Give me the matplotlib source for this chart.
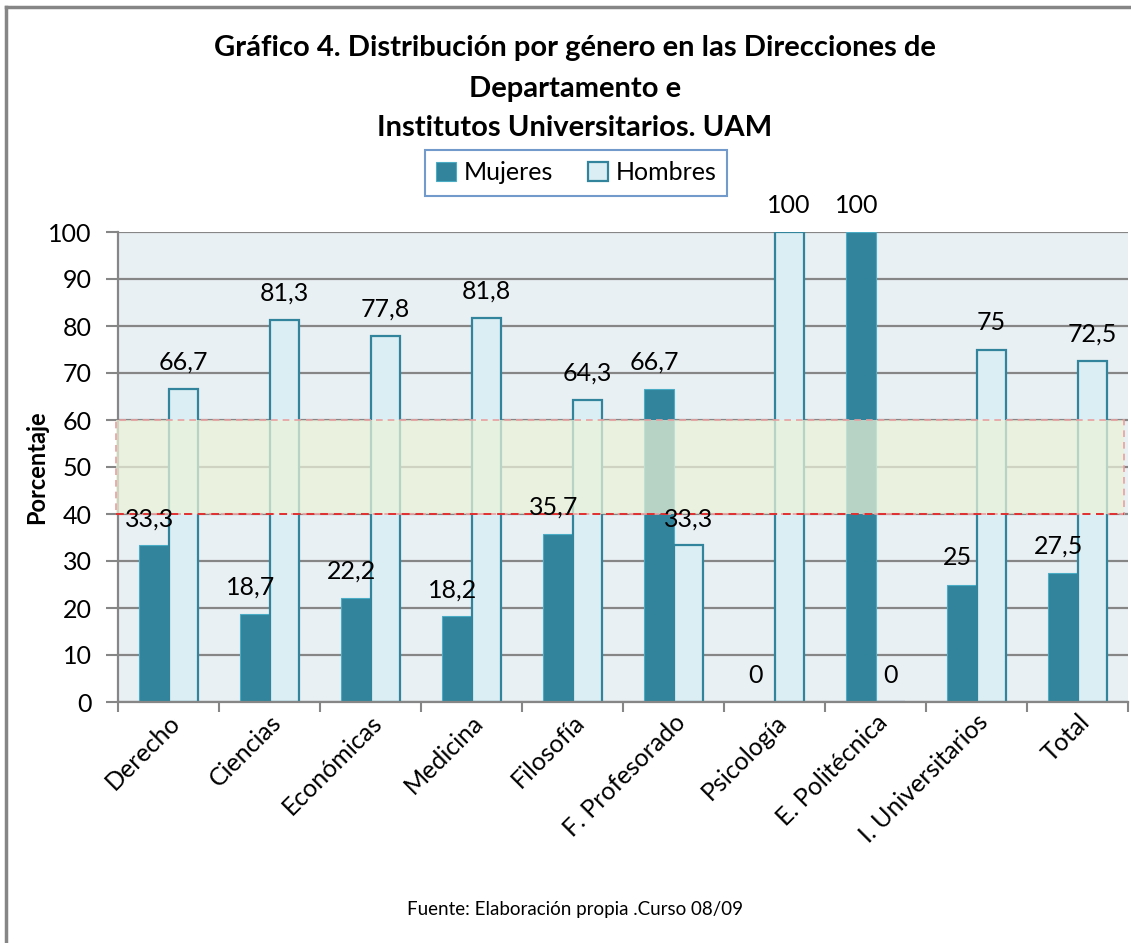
import matplotlib
matplotlib.use("Agg")
import matplotlib.pyplot as plt
from matplotlib.patches import Rectangle
from matplotlib.lines import Line2D
import numpy as np

categories = ["Derecho", "Ciencias", "Económicas", "Medicina", "Filosofía",
              "F. Profesorado", "Psicología", "E. Politécnica", "I. Universitarios", "Total"]
mujeres = [33.3, 18.7, 22.2, 18.2, 35.7, 66.7, 0, 100, 25, 27.5]
hombres = [66.7, 81.3, 77.8, 81.8, 64.3, 33.3, 100, 0, 75, 72.5]
band_low, band_high = 40, 60
yticks = list(range(0, 101, 10))

plt.rcParams['font.family'] = ['Lato', 'DejaVu Sans']
plt.rcParams['hatch.color'] = '#F4F8EC'
plt.rcParams['hatch.linewidth'] = 0.6

W, H = 1131, 943
fig = plt.figure(figsize=(W / 100, H / 100), dpi=100)

# outer border
fig.add_artist(Line2D([6 / W, 1.0], [1 - 7 / H, 1 - 7 / H], color='#868686', lw=2.5,
                      transform=fig.transFigure))
fig.add_artist(Line2D([6 / W, 6 / W], [1 - 7 / H, 0], color='#868686', lw=2.5,
                      transform=fig.transFigure))

ax = fig.add_axes([118 / W, 1 - 702 / H, 1010 / W, 470 / H])
ax.set_facecolor('#E9F0F3')

x = np.arange(len(categories))
w = 0.29
dark = '#31849B'
light = '#DAEEF3'

ax.set_axisbelow(True)
ax.yaxis.grid(True, color='#868686', lw=1.6)
bm = ax.bar(x - w / 2, mujeres, w, color=dark, edgecolor='#4BACC6', lw=0.8, zorder=2)
bh = ax.bar(x + w / 2, hombres, w, color=light, edgecolor=dark, lw=1.6, zorder=2)


def fmt(v):
    return str(int(v)) if float(v).is_integer() else f"{v}".replace('.', ',')


for xi, v in zip(x, mujeres):
    ax.annotate(fmt(v), (xi - w / 2, v), xytext=(-3, 11), textcoords='offset points',
                ha='center', va='bottom', fontsize=18, color='black', zorder=5,
                annotation_clip=False)
for xi, v in zip(x, hombres):
    ax.annotate(fmt(v), (xi + w / 2, v), xytext=(0, 11), textcoords='offset points',
                ha='center', va='bottom', fontsize=18, color='black', zorder=5,
                annotation_clip=False)

# highlighted band
x0, x1 = -0.52, 9.46
ax.add_patch(Rectangle((x0, band_low), x1 - x0, band_high - band_low,
                       facecolor='#EBF3D8', alpha=0.72, edgecolor='none', zorder=3,
                       clip_on=False, hatch='++'))
ax.add_patch(Rectangle((x0, band_low), x1 - x0, band_high - band_low,
                       facecolor='none', edgecolor='#E8A0A0', lw=1.2, ls=(0, (4, 3)),
                       zorder=4, clip_on=False))
ax.plot([x0, x1], [band_low, band_low], color='#E03030', lw=1.4, ls=(0, (4, 3)),
        zorder=4, clip_on=False)

ax.set_xlim(-0.5, 9.5)
ax.set_ylim(0, 100)
ax.set_yticks(yticks)
ax.set_yticklabels([str(t) for t in yticks], fontsize=18)
ax.tick_params(axis='y', length=9, width=1.5, color='#868686', pad=10)

ax.set_xticks(x)
ax.set_xticklabels(categories, rotation=45, ha='right', rotation_mode='anchor', fontsize=18)
ax.tick_params(axis='x', which='major', length=0, pad=6)
ax.set_xticks(np.arange(-0.5, 10, 1), minor=True)
ax.tick_params(axis='x', which='minor', length=7, width=1.5, color='#868686')

for s in ['top', 'right']:
    ax.spines[s].set_visible(False)
for s in ['left', 'bottom']:
    ax.spines[s].set_color('#868686')
    ax.spines[s].set_linewidth(1.6)

ax.set_ylabel('Porcentaje', fontsize=17, fontweight='bold', labelpad=0)

fig.text(575 / W, 1 - 48 / H, 'Gráfico 4. Distribución por género en las Direcciones de',
         ha='center', va='center', fontsize=21, fontweight='bold')
fig.text(575 / W, 1 - 89 / H, 'Departamento e', ha='center', va='center',
         fontsize=21, fontweight='bold')
fig.text(575 / W, 1 - 128 / H, 'Institutos Universitarios. UAM', ha='center', va='center',
         fontsize=21, fontweight='bold')

leg = fig.legend([bm, bh], ['Mujeres', 'Hombres'], loc='center', ncol=2,
                 bbox_to_anchor=(576 / W, 1 - 173 / H), fontsize=18, frameon=True,
                 fancybox=False, handlelength=0.8, handleheight=0.8, handletextpad=0.3,
                 columnspacing=1.4, borderpad=0.45, borderaxespad=0)
leg.get_frame().set_edgecolor('#4F81BD')
leg.get_frame().set_linewidth(1.5)

fig.text(575 / W, 1 - 909 / H, 'Fuente: Elaboración propia .Curso 08/09', ha='center',
         va='center', fontsize=13.5)

fig.savefig('out.png', dpi=100, facecolor='white')
